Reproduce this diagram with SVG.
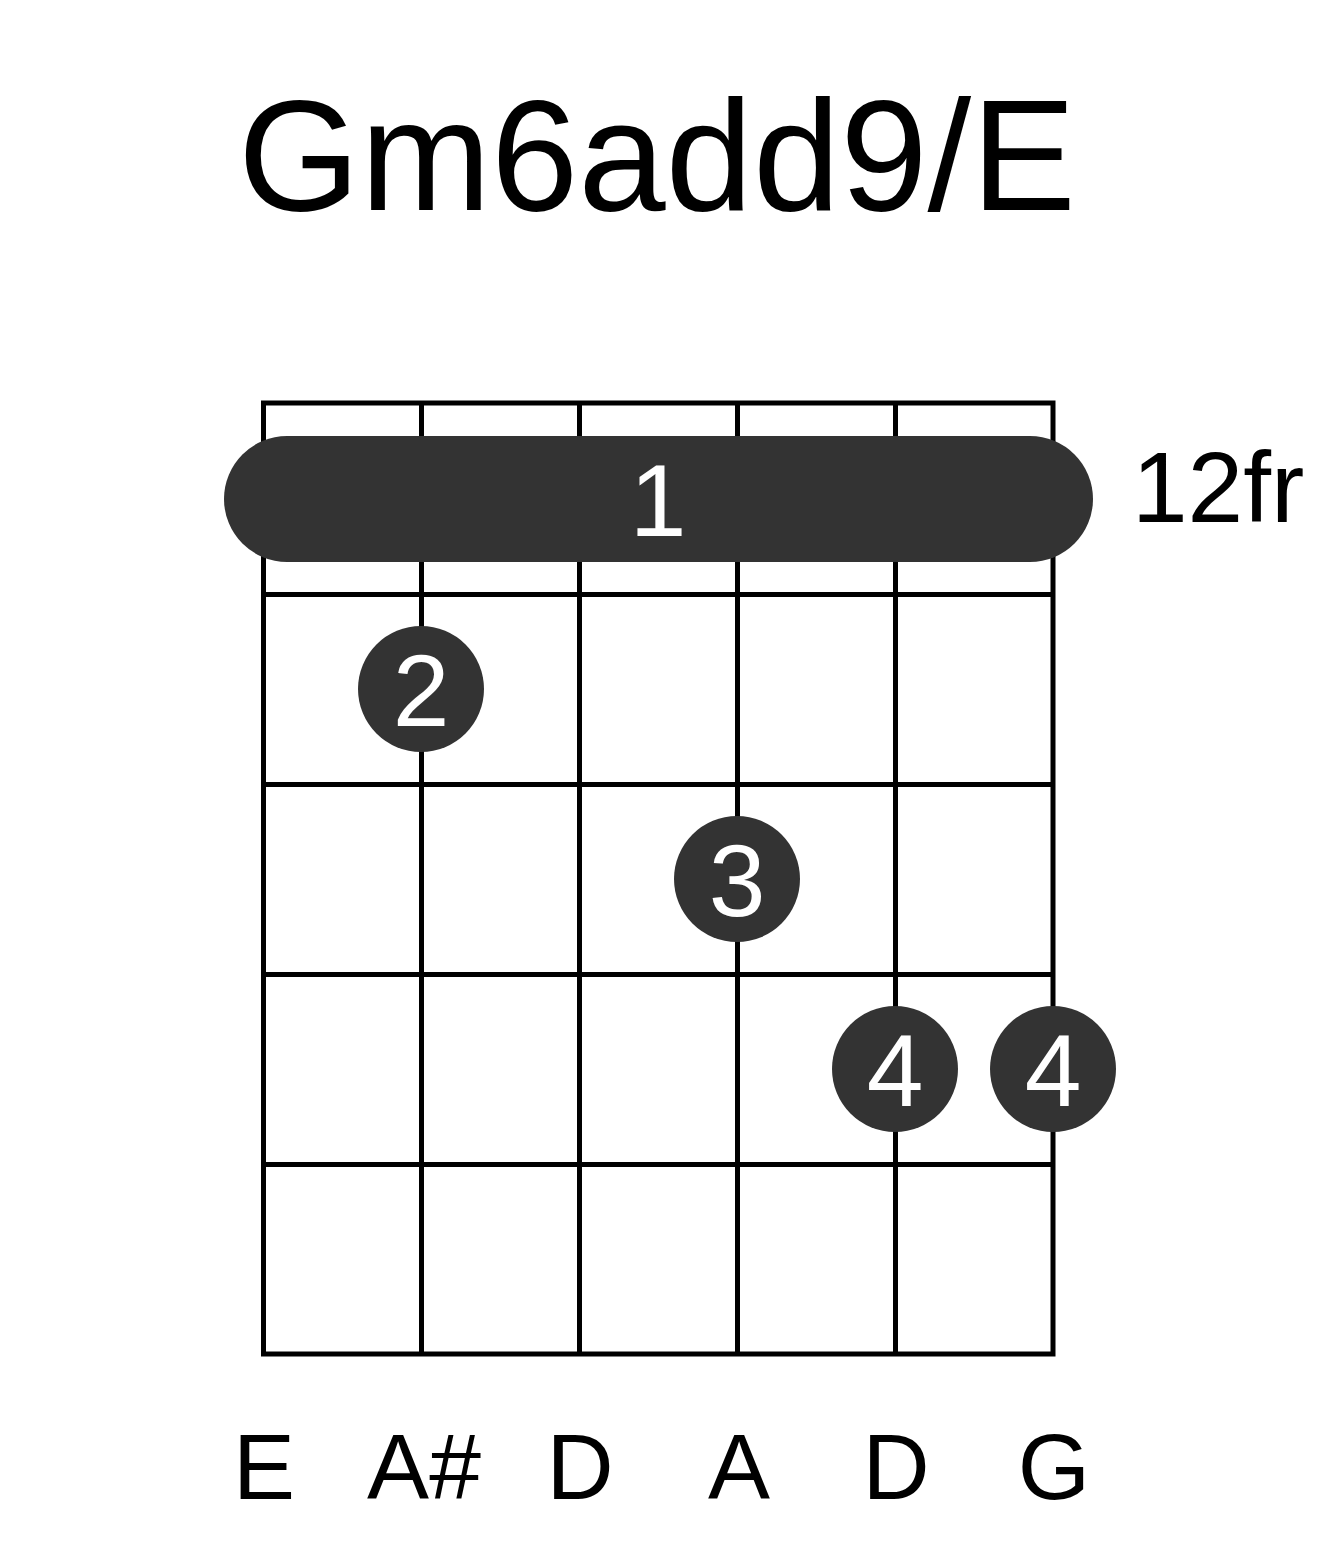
<svg xmlns="http://www.w3.org/2000/svg" width="1317" height="1551" viewBox="0 0 1317 1551">
<style>
text{font-family:"Liberation Sans",Arial,sans-serif}
.ln{stroke:#000;stroke-width:5;fill:none}
.dot{fill:#333}
.fn{fill:#fff;font-size:102px;text-anchor:middle}
.sl{fill:#000;font-size:93px;text-anchor:middle}
</style>
<rect width="1317" height="1551" fill="#fff"/>
<g id="title"><text x="657" y="210" font-size="157" text-anchor="middle">Gm6add9/E</text></g>
<g id="grid">
<rect class="ln" x="263.5" y="403" width="789.5" height="951"/>
<line class="ln" x1="421.5" y1="403" x2="421.5" y2="1354"/>
<line class="ln" x1="579.5" y1="403" x2="579.5" y2="1354"/>
<line class="ln" x1="737.5" y1="403" x2="737.5" y2="1354"/>
<line class="ln" x1="895.5" y1="403" x2="895.5" y2="1354"/>
<line class="ln" x1="263.5" y1="594.5" x2="1053" y2="594.5"/>
<line class="ln" x1="263.5" y1="784.5" x2="1053" y2="784.5"/>
<line class="ln" x1="263.5" y1="974.5" x2="1053" y2="974.5"/>
<line class="ln" x1="263.5" y1="1164.5" x2="1053" y2="1164.5"/>
</g>
<g id="barre"><rect class="dot" x="224" y="436" width="869" height="126" rx="63" ry="63"/><text class="fn" x="658" y="536">1</text></g>
<g id="fret-label"><text x="1132" y="522" font-size="100">12fr</text></g>
<g id="f2"><circle class="dot" cx="421" cy="689" r="63"/><text class="fn" x="421" y="726">2</text></g>
<g id="f3"><circle class="dot" cx="737" cy="879" r="63"/><text class="fn" x="737" y="916">3</text></g>
<g id="f4a"><circle class="dot" cx="895" cy="1069" r="63"/><text class="fn" x="895" y="1106">4</text></g>
<g id="f4b"><circle class="dot" cx="1053" cy="1069" r="63"/><text class="fn" x="1053" y="1106">4</text></g>
<g id="strings">
<text class="sl" x="264" y="1499">E</text>
<text class="sl" x="424" y="1499">A#</text>
<text class="sl" x="580" y="1499">D</text>
<text class="sl" x="739" y="1499">A</text>
<text class="sl" x="896" y="1499">D</text>
<text class="sl" x="1054" y="1499">G</text>
</g>
</svg>
